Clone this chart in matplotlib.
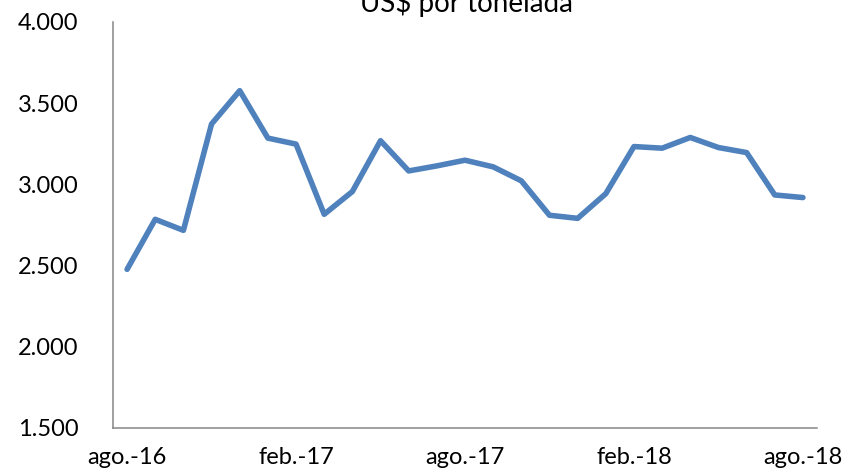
import numpy as np
import matplotlib.pyplot as plt

# monthly price, ago.-16 .. ago.-18 (US$ por tonelada)
months = ['ago.-16', 'sep.-16', 'oct.-16', 'nov.-16', 'dic.-16', 'ene.-17',
          'feb.-17', 'mar.-17', 'abr.-17', 'may.-17', 'jun.-17', 'jul.-17',
          'ago.-17', 'sep.-17', 'oct.-17', 'nov.-17', 'dic.-17', 'ene.-18',
          'feb.-18', 'mar.-18', 'abr.-18', 'may.-18', 'jun.-18', 'jul.-18',
          'ago.-18']
price = [2477, 2785, 2717, 3372, 3577, 3285, 3248, 2816, 2956, 3269,
         3083, 3114, 3149, 3108, 3022, 2810, 2791, 2943, 3233, 3223,
         3289, 3227, 3196, 2935, 2919]
yticks = [1500, 2000, 2500, 3000, 3500, 4000]
title = 'US$ por tonelada'

plt.rcParams['font.family'] = ['Lato', 'DejaVu Sans']

fig = plt.figure(figsize=(8.49, 4.74), dpi=100)
ax = fig.add_axes([113 / 849, 46 / 474, 704 / 849, 406 / 474])

x = np.arange(len(months))
ax.plot(x, price, color='#4F81BD', lw=4, solid_joinstyle='round', solid_capstyle='round')

ax.set_xlim(-0.5, len(months) - 0.5)
ax.set_ylim(1500, 4000)
ax.set_yticks(yticks)
ax.set_yticklabels([f'{v:,}'.replace(',', '.') for v in yticks])
ax.set_xticks(x[::6])
ax.set_xticklabels(months[::6])

for s in ['top', 'right']:
    ax.spines[s].set_visible(False)
for s in ['left', 'bottom']:
    ax.spines[s].set_color('#868686')
    ax.spines[s].set_linewidth(1.1)

ax.tick_params(axis='y', length=0, pad=25, labelsize=17, labelcolor='black')
ax.tick_params(axis='x', length=0, pad=13.5, labelsize=17, labelcolor='black')

# title sits partly above the top edge, as in the original
fig.text(466 / 849, 1 - 11.7 / 474, title, ha='center', va='baseline', fontsize=20)

fig.savefig('out.png', dpi=100)
